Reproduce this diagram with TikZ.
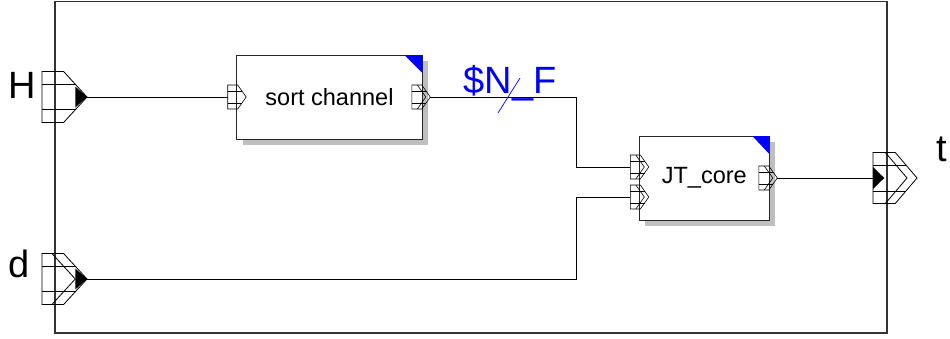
\documentclass[tikz,border=0pt]{standalone}
\usepackage{fontspec}
\setmainfont{Liberation Sans}
\usetikzlibrary{shadows, positioning, calc}

\begin{document}
\begin{tikzpicture}[
  x=1pt, y=-1pt,
  frame/.style={draw=black!80, line width=1.2pt},
  block/.style={rectangle, draw=black!85, line width=0.9pt, fill=white, inner sep=0pt, outer sep=0pt, font=\fontsize{23.5}{26}\selectfont, drop shadow={shadow xshift=6pt, shadow yshift=-6pt, fill=black!25, opacity=1}},
  wire/.style={line width=0.8pt},
  pin/.style={line width=0.8pt, line join=miter},
  smallpin/.style={line width=0.6pt, line join=miter},
  portlabel/.style={inner sep=0pt, font=\fontsize{38}{40}\selectfont},
  buslabel/.style={inner sep=0pt, text=blue, font=\fontsize{38}{40}\selectfont},
  busmark/.style={draw=blue, line width=0.7pt},
  corner/.style={fill=blue},
  % outer input port, origin at the tip
  extin/.pic={
    \draw[pin] (-45,-25.5) -- (-23.4,-25.5) -- (0,0) -- (-23.4,25.5) -- (-45,25.5) -- cycle;
    \draw[pin] (-45,-12.8) -- (-11.7,-12.8) (-45,12.8) -- (-11.7,12.8);
    \fill (-11.7,-10.5) -- (0,0) -- (-11.7,10.5) -- cycle;
  },
  extinbus/.pic={
    \draw[pin] (-45,-25.5) -- (-23.4,-25.5) -- (0,0) -- (-23.4,25.5) -- (-45,25.5) -- cycle;
    \draw[pin] (-45,-12.8) -- (-11.7,-12.8) (-45,12.8) -- (-11.7,12.8);
    \draw[pin] (-35.1,-25.5) -- (-11.7,0) -- (-35.1,25.5);
    \fill (-11.7,-10.5) -- (0,0) -- (-11.7,10.5) -- cycle;
  },
  % outer output port, origin at the left side
  extoutbus/.pic={
    \draw[pin] (0,-25.5) -- (22.3,-25.5) -- (44,0) -- (22.3,25.5) -- (0,25.5) -- cycle;
    \draw[pin] (0,-13) -- (33,-13) (0,13) -- (33,13);
    \draw[pin] (12.3,-25.5) -- (34,0) -- (12.3,25.5);
    \fill (0,-11) -- (11.3,0) -- (0,11) -- cycle;
  },
  % block ports, origin at the left side
  blkin/.pic={
    \draw[smallpin] (0,-12) -- (10,-12) -- (18.5,0) -- (10,12) -- (0,12) -- cycle;
    \draw[smallpin] (0,-6) -- (14.25,-6) (0,6) -- (14.25,6);
  },
  blkbus/.pic={
    \draw[smallpin] (0,-12) -- (10,-12) -- (18.5,0) -- (10,12) -- (0,12) -- cycle;
    \draw[smallpin] (0,-6) -- (14.25,-6) (0,6) -- (14.25,6);
    \draw[smallpin] (5.5,-12) -- (14,0) -- (5.5,12);
  }
]
  \useasboundingbox (0,0) rectangle (950,338);

  % frame
  \draw[frame] (55,1.5) rectangle (887,333);

  % blocks
  \node[block, minimum width=185.6pt, minimum height=84pt] (sc) at (329.5,97) {sort channel};
  \node[block, minimum width=130pt, minimum height=84pt] (jt) at (704.3,178) {JT\_core};
  \fill[corner] (sc.north east) -- ++(-18,0) -- ++(18,18) -- cycle;
  \fill[corner] (jt.north east) -- ++(-17,0) -- ++(17,18) -- cycle;

  % ports
  \coordinate (hpin) at (87,97);
  \coordinate (dpin) at (87,279);
  \coordinate (tpin) at (873,178);
  \coordinate (scin) at ([xshift=-9pt]sc.west);
  \coordinate (scout) at ([xshift=8pt]sc.east);
  \coordinate (jtin1) at ([shift={(-9,-11)}]jt.west);
  \coordinate (jtin2) at ([shift={(-9,19)}]jt.west);
  \coordinate (jtout) at ([xshift=8pt]jt.east);
  \coordinate (jog) at (576,0);

  \pic at (hpin) {extin};
  \pic at (dpin) {extinbus};
  \pic at (tpin) {extoutbus};
  \pic at (scin) {blkin};
  \pic at ([xshift=-18.5pt]scout) {blkbus};
  \pic at (jtin1) {blkbus};
  \pic at (jtin2) {blkbus};
  \pic at ([xshift=-18.5pt]jtout) {blkbus};

  % wires
  \draw[wire] (hpin) -- (scin);
  \draw[wire] (scout) -- (scout -| jog) |- (jtin1);
  \draw[wire] (dpin) -- (dpin -| jog) |- (jtin2);
  \draw[wire] (jtout) -- (tpin);

  % bus label
  \coordinate (bus) at (509,97);
  \draw[busmark] ($(bus)+(-11,16)$) -- ($(bus)+(11,-19)$);
  \node[buslabel, anchor=base] (nf) at (510,93) {\$N\_F};

  % port labels
  \node[portlabel, anchor=base east] (hlab) at (36.5,98) {H};
  \node[portlabel, anchor=base east] (dlab) at (30,277) {d};
  \node[portlabel, anchor=base west] (tlab) at (936,161) {t};
\end{tikzpicture}
\end{document}
